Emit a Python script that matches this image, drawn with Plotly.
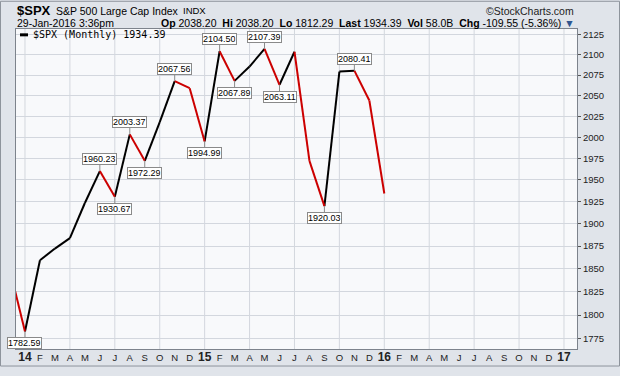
import math
import plotly.graph_objects as go

# ---------------- data ----------------
months = ["Dec 2013", "Jan 2014", "Feb 2014", "Mar 2014", "Apr 2014", "May 2014", "Jun 2014",
          "Jul 2014", "Aug 2014", "Sep 2014", "Oct 2014", "Nov 2014", "Dec 2014",
          "Jan 2015", "Feb 2015", "Mar 2015", "Apr 2015", "May 2015", "Jun 2015",
          "Jul 2015", "Aug 2015", "Sep 2015", "Oct 2015", "Nov 2015", "Dec 2015", "Jan 2016"]
closes = [1848.36, 1782.59, 1859.45, 1872.34, 1883.95, 1923.57, 1960.23,
          1930.67, 2003.37, 1972.29, 2018.05, 2067.56, 2058.90,
          1994.99, 2104.50, 2067.89, 2085.51, 2107.39, 2063.11,
          2103.84, 1972.18, 1920.03, 2079.36, 2080.41, 2043.94, 1934.39]
# month index relative to Jan 2014
month_pos = list(range(-1, len(months) - 1))

labeled_above = ["Jun 2014", "Aug 2014", "Nov 2014", "Feb 2015", "May 2015", "Nov 2015"]
labeled_below = ["Jan 2014", "Jul 2014", "Sep 2014", "Jan 2015", "Mar 2015", "Jun 2015", "Sep 2015"]
support_month = "Sep 2015"

tick_labels = ["14", "F", "M", "A", "M", "J", "J", "A", "S", "O", "N", "D",
               "15", "F", "M", "A", "M", "J", "J", "A", "S", "O", "N", "D",
               "16", "F", "M", "A", "M", "J", "J", "A", "S", "O", "N", "D", "17"]
y_ticks = [1775, 1800, 1825, 1850, 1875, 1900, 1925, 1950, 1975, 2000, 2025, 2050, 2075, 2100, 2125]

# ---------------- geometry ----------------
W, H = 620, 376
ML, MR, MT, MB = 16, 43, 29, 18
PW, PH = W - ML - MR, H - MT - MB


def px(X):
    return (X - ML) / PW


def py(Y):
    return (H - MB - Y) / PH


BLACK = "#000000"
RED = "#cc0000"

# build up/down segments
bx, by, rx, ry = [], [], [], []
for i in range(1, len(closes)):
    seg_x = [month_pos[i - 1], month_pos[i], None]
    seg_y = [closes[i - 1], closes[i], None]
    if closes[i] >= closes[i - 1]:
        bx += seg_x
        by += seg_y
    else:
        rx += seg_x
        ry += seg_y

fig = go.Figure()
fig.add_trace(go.Scatter(x=bx, y=by, mode="lines", line=dict(color=BLACK, width=2),
                         hoverinfo="skip", showlegend=False))
fig.add_trace(go.Scatter(x=rx, y=ry, mode="lines", line=dict(color=RED, width=2),
                         hoverinfo="skip", showlegend=False))

annotations = []
# value labels
for name in labeled_above + labeled_below:
    i = months.index(name)
    above = name in labeled_above
    annotations.append(dict(
        x=month_pos[i], y=math.log10(closes[i]), xref="x", yref="y",
        text=f"{closes[i]:.2f}", showarrow=True, arrowhead=0, arrowwidth=1,
        arrowcolor="#8a8a8a", ax=0, ay=-12 if above else 12, standoff=0,
        bordercolor="#8a8a8a", borderwidth=1, borderpad=0, bgcolor="#ffffff",
        font=dict(family="Liberation Sans, Arial", size=9, color="#000000"),
        height=10,
    ))

# header texts
hdr_font = dict(family="Liberation Sans, Arial", color="#000000")
annotations += [
    dict(x=px(15), y=py(10), xref="paper", yref="paper", xanchor="left", yanchor="middle",
         showarrow=False, text="<b>$SPX</b>", font=dict(size=13, **hdr_font)),
    dict(x=px(54), y=py(10), xref="paper", yref="paper", xanchor="left", yanchor="middle",
         showarrow=False, text="S&amp;P 500 Large Cap Index", font=dict(size=10.5, **hdr_font)),
    dict(x=px(181), y=py(10), xref="paper", yref="paper", xanchor="left", yanchor="middle",
         showarrow=False, text="INDX", font=dict(size=9.5, **hdr_font)),
    dict(x=px(576), y=py(10), xref="paper", yref="paper", xanchor="right", yanchor="middle",
         showarrow=False, text="\u00a9StockCharts.com", font=dict(size=10.5, family="Liberation Sans, Arial", color="#222222")),
    dict(x=px(15), y=py(23), xref="paper", yref="paper", xanchor="left", yanchor="middle",
         showarrow=False, text="29-Jan-2016 3:36pm", font=dict(size=10.5, **hdr_font)),
    dict(x=px(577), y=py(23), xref="paper", yref="paper", xanchor="right", yanchor="middle",
         showarrow=False,
         text=("<b>Op</b> 2038.20  <b>Hi</b> 2038.20  <b>Lo</b> 1812.29  <b>Last</b> 1934.39  "
               "<b>Vol</b> 58.0B  <b>Chg</b> -109.55 (-5.36%) <span style='color:#2f5590'>\u25bc</span>"),
         font=dict(size=10.5, **hdr_font)),
    # legend
    dict(x=px(31), y=py(35), xref="paper", yref="paper", xanchor="left", yanchor="middle",
         showarrow=False, text=f"$SPX (Monthly) {closes[-1]:.2f}",
         font=dict(family="DejaVu Sans Mono, monospace", size=10, color="#000000")),
]

shapes = []
# quarterly vertical grid
for m in range(0, 37, 3):
    shapes.append(dict(type="line", xref="x", yref="paper", x0=m, x1=m, y0=0, y1=1,
                       line=dict(color="#d3d7de", width=1), layer="below"))
# support line
sv = closes[months.index(support_month)]
shapes.append(dict(type="line", xref="paper", yref="y", x0=0, x1=1,
                   y0=math.log10(sv), y1=math.log10(sv), line=dict(color="#000000", width=1.3)))
# legend dash
shapes.append(dict(type="line", xref="paper", yref="paper", x0=px(20), x1=px(28),
                   y0=py(35), y1=py(35), line=dict(color="#000000", width=3)))
# outer frame
shapes.append(dict(type="rect", xref="paper", yref="paper", x0=px(0.5), x1=px(619.5),
                   y0=py(375.5), y1=py(0.5), line=dict(color="#8e949c", width=1), layer="below"))

ticktext = []
for t in tick_labels:
    if t.isdigit():
        ticktext.append(f"<span style='font-size:12px'><b>{t}</b></span>")
    else:
        ticktext.append(t)

fig.update_layout(
    width=W, height=H,
    margin=dict(l=ML, r=MR, t=MT, b=MB),
    paper_bgcolor="#e0e4ea",
    plot_bgcolor="#f8f9fb",
    showlegend=False,
    annotations=annotations,
    shapes=shapes,
    xaxis=dict(
        range=[-0.6, 36.87], tickmode="array", tickvals=list(range(0, 37)), ticktext=ticktext,
        showgrid=False, zeroline=False, showline=True, mirror=True, linecolor="#7d838c",
        linewidth=1, ticks="", tickfont=dict(family="Liberation Sans, Arial", size=9.5, color="#222222"),
    ),
    yaxis=dict(
        type="log", side="right",
        range=[math.log10(1764.2), math.log10(2132.4)],
        tickmode="array", tickvals=y_ticks, ticktext=[str(v) for v in y_ticks],
        showgrid=True, gridcolor="#d3d7de", gridwidth=1, zeroline=False,
        showline=True, mirror=True, linecolor="#7d838c", linewidth=1,
        ticks="outside", ticklen=3, tickcolor="#555555",
        tickfont=dict(family="Liberation Sans, Arial", size=9.5, color="#222222"),
    ),
)

fig.write_html("out.html", config={"displayModeBar": False},
               post_script="document.body.style.margin='0';document.body.style.padding='0';")
